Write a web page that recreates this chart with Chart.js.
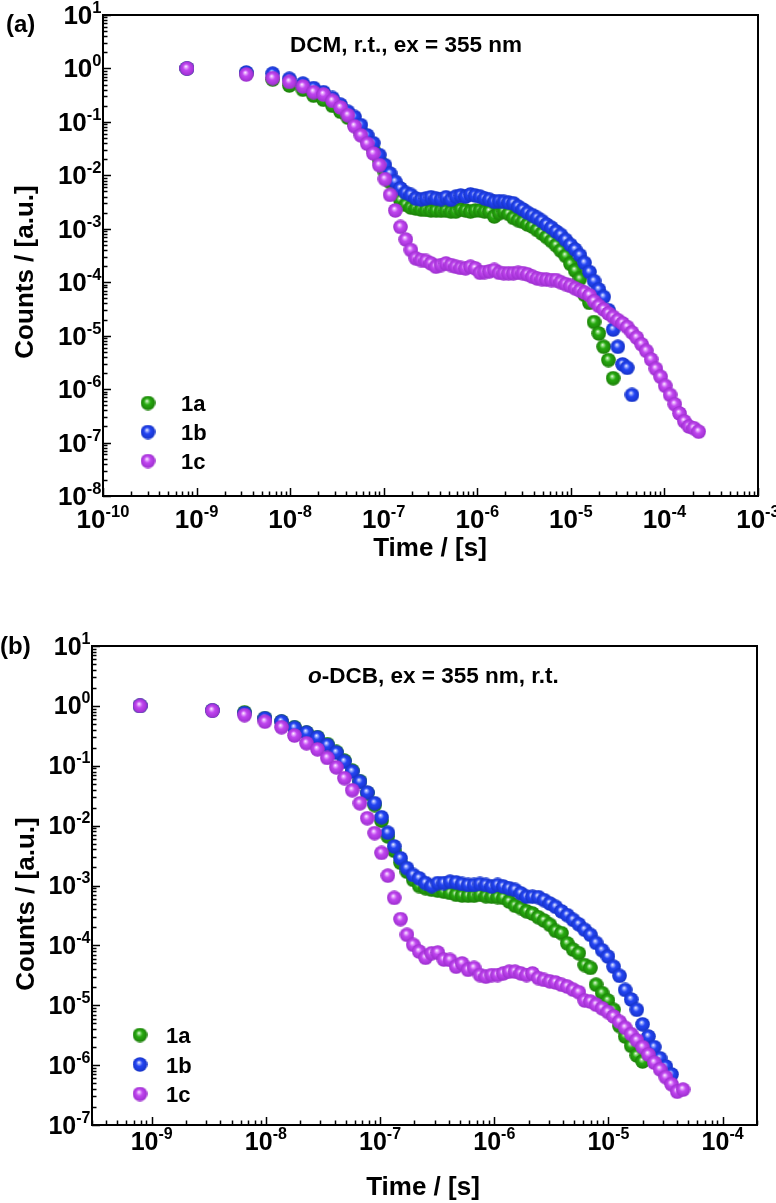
<!DOCTYPE html>
<html>
<head>
<meta charset="utf-8">
<script src="https://cdn.jsdelivr.net/npm/chart.js@4.4.0/dist/chart.umd.min.js"></script>
<style>
  html, body { margin: 0; padding: 0; background: #fff; }
  #wrap { position: relative; width: 776px; height: 1203px; }
  canvas { position: absolute; left: 0; }
</style>
</head>
<body>
<div id="wrap">
  <canvas id="chartA" width="776" height="590" style="top:0px"></canvas>
  <canvas id="chartB" width="776" height="613" style="top:590px"></canvas>
</div>
<script>
// shared time bins (s)
const times = [
  7.9e-10, 3.4e-9, 6.5e-9, 9.8e-9, 1.37e-8, 1.78e-8, 2.27e-8, 2.83e-8, 3.45e-8, 4.14e-8,
  4.87e-8, 5.7e-8, 6.66e-8, 7.73e-8, 8.96e-8, 1.03e-7, 1.17e-7, 1.33e-7, 1.51e-7, 1.72e-7,
  1.95e-7, 2.2e-7, 2.5e-7, 2.83e-7, 3.2e-7, 3.62e-7, 4.1e-7, 4.63e-7, 5.23e-7, 5.9e-7,
  6.65e-7, 7.5e-7, 8.45e-7, 9.5e-7, 1.07e-6, 1.2e-6, 1.35e-6, 1.52e-6, 1.71e-6, 1.92e-6,
  2.16e-6, 2.43e-6, 2.73e-6, 3.07e-6, 3.45e-6, 3.88e-6, 4.36e-6, 4.9e-6, 5.5e-6, 6.2e-6,
  6.95e-6, 7.8e-6, 8.8e-6, 9.9e-6, 1.11e-5, 1.25e-5, 1.4e-5, 1.58e-5, 1.77e-5, 1.99e-5,
  2.24e-5, 2.52e-5, 2.83e-5, 3.18e-5, 3.57e-5, 4.0e-5, 4.5e-5, 5.06e-5, 5.7e-5, 6.4e-5,
  7.2e-5, 8.1e-5, 9.1e-5, 1.02e-4, 1.15e-4, 1.29e-4, 1.45e-4, 1.63e-4, 1.83e-4, 2.06e-4,
  2.32e-4
];

const seriesNames = ["1a", "1b", "1c"];

// (a) DCM
const dcm1a = [
  1.0, 0.80, 0.62, 0.48, 0.40, 0.31, 0.26, 0.20, 0.155, 0.12,
  0.09, 0.065, 0.045, 0.03, 0.019, 0.0115, 0.0075, 0.0048, 0.0034, 0.0028,
  0.0025, 0.0024, 0.0023, 0.00225, 0.0022, 0.0022, 0.00218, 0.0022, 0.0021, 0.0021,
  0.0023, 0.0022, 0.0021, 0.0022, 0.0022, 0.0021, 0.0021, 0.0017, 0.00195, 0.0021,
  0.0019, 0.0016, 0.00145, 0.00135, 0.0012, 0.0011, 0.00095, 0.00082, 0.0007, 0.00059,
  0.00049, 0.00039, 0.00031, 0.00022, 0.000165, 0.000115, 5.8e-5, 4.1e-5, 1.8e-5, 1.1e-5,
  6.2e-6, 3.5e-6, 1.6e-6
];
const dcm1b = [
  1.0, 0.84, 0.80, 0.64, 0.52, 0.43, 0.36, 0.28, 0.21, 0.155,
  0.124, 0.087, 0.056, 0.040, 0.024, 0.0155, 0.0108, 0.0076, 0.0057, 0.0047,
  0.0043, 0.0037, 0.00355, 0.0037, 0.0039, 0.0037, 0.0036, 0.0039, 0.0035, 0.0040,
  0.0042, 0.0040, 0.0044, 0.0042, 0.0040, 0.0037, 0.0035, 0.0032, 0.0033, 0.0032,
  0.0031, 0.0030, 0.0026, 0.0023, 0.0020, 0.0018, 0.0016, 0.0014, 0.0012, 0.00105,
  0.00089, 0.00077, 0.00062, 0.0005, 0.00041, 0.00032, 0.00023, 0.000155, 0.000105, 7.3e-5,
  5.3e-5, 3.0e-5, 1.3e-5, 6.2e-6, 2.9e-6, 2.5e-6, 7.8e-7
];
const dcm1c = [
  1.0, 0.77, 0.66, 0.56, 0.46, 0.36, 0.325, 0.247, 0.186, 0.133,
  0.083, 0.056, 0.039, 0.0257, 0.0155, 0.0085, 0.0043, 0.0022, 0.00108, 0.00063,
  0.0004, 0.00028, 0.00026, 0.00025, 0.000225, 0.000195, 0.00021, 0.000225, 0.00021, 0.000195,
  0.000185, 0.000182, 0.000195, 0.000182, 0.00015, 0.000155, 0.00016, 0.00017, 0.00015, 0.000147,
  0.000147, 0.000147, 0.00015, 0.000148, 0.00014, 0.000127, 0.000118, 0.000114, 0.000112, 0.00011,
  0.00011, 0.0001, 9.2e-5, 8.5e-5, 7.7e-5, 7.0e-5, 6.4e-5, 5.7e-5, 4.4e-5, 3.6e-5,
  3.1e-5, 2.6e-5, 2.25e-5, 1.95e-5, 1.7e-5, 1.45e-5, 1.15e-5, 9.2e-6, 6.9e-6, 5.2e-6,
  3.6e-6, 2.4e-6, 1.7e-6, 1.15e-6, 7.8e-7, 5.2e-7, 3.5e-7, 2.5e-7, 2.0e-7, 1.86e-7,
  1.6e-7
];

// (b) o-DCB
const odcb1a = [
  1.0, 0.84, 0.78, 0.62, 0.55, 0.44, 0.36, 0.30, 0.23, 0.17,
  0.122, 0.083, 0.055, 0.035, 0.022, 0.012, 0.0066, 0.0038, 0.0024, 0.0017,
  0.00124, 0.00098, 0.0009, 0.00085, 0.00082, 0.00079, 0.00075, 0.0007, 0.00068, 0.000675,
  0.000675, 0.0007, 0.00066, 0.00065, 0.00064, 0.00062, 0.00054, 0.00046, 0.00042, 0.00037,
  0.00034, 0.000295, 0.00026, 0.00022, 0.000175, 0.00016, 0.000108, 8.5e-5, 7.4e-5, 4.7e-5,
  4.2e-5, 2.2e-5, 1.6e-5, 1.2e-5, 8.4e-6, 4.5e-6, 3.0e-6, 2.1e-6, 1.45e-6, 1.15e-6
];
const odcb1b = [
  1.0, 0.84, 0.76, 0.62, 0.545, 0.43, 0.357, 0.295, 0.222, 0.166,
  0.117, 0.080, 0.054, 0.0356, 0.0237, 0.0138, 0.0076, 0.0045, 0.00285, 0.00195,
  0.0015, 0.00132, 0.0011, 0.00098, 0.0011, 0.0011, 0.00116, 0.00113, 0.00106, 0.00102,
  0.00102, 0.00106, 0.00102, 0.00096, 0.00102, 0.00096, 0.0009, 0.000845, 0.00074, 0.00065,
  0.00065, 0.00064, 0.00057, 0.0005, 0.00044, 0.00037, 0.00032, 0.000267, 0.000225, 0.000182,
  0.00015, 0.00011, 8.3e-5, 6.5e-5, 4.4e-5, 3.1e-5, 1.8e-5, 1.25e-5, 8.4e-6, 4.8e-6,
  3.0e-6, 2.0e-6, 1.3e-6, 9.5e-7, 7.0e-7
];
const odcb1c = [
  1.0, 0.83, 0.70, 0.545, 0.44, 0.32, 0.238, 0.188, 0.135, 0.094,
  0.062, 0.039, 0.0236, 0.0133, 0.0075, 0.0035, 0.00146, 0.00062, 0.000275, 0.00015,
  0.000102, 7.9e-5, 6.2e-5, 7.4e-5, 7.6e-5, 5.8e-5, 5.7e-5, 4.4e-5, 5.0e-5, 3.9e-5,
  4.2e-5, 3.2e-5, 3.0e-5, 3.2e-5, 3.2e-5, 3.4e-5, 3.65e-5, 3.65e-5, 3.4e-5, 3.2e-5,
  3.4e-5, 2.85e-5, 2.65e-5, 2.5e-5, 2.4e-5, 2.2e-5, 2.05e-5, 1.82e-5, 1.65e-5, 1.2e-5,
  1.15e-5, 1.02e-5, 8.9e-6, 7.7e-6, 6.5e-6, 5.3e-6, 4.2e-6, 3.3e-6, 2.6e-6, 2.0e-6,
  1.5e-6, 1.1e-6, 8.5e-7, 6.3e-7, 4.8e-7, 3.6e-7, 3.9e-7
];

const FONT = '"Liberation Sans", Arial, sans-serif';

// shiny ball marker
function sphere(base, light, dark) {
  const c = document.createElement("canvas");
  c.width = 15; c.height = 15;
  const g = c.getContext("2d");
  const grad = g.createRadialGradient(6.3, 5.3, 0, 7.5, 7.5, 7.6);
  grad.addColorStop(0, "#ffffff");
  grad.addColorStop(0.14, light);
  grad.addColorStop(0.42, base);
  grad.addColorStop(1, dark);
  g.fillStyle = grad;
  g.beginPath();
  g.arc(7.5, 7.5, 7.3, 0, Math.PI * 2);
  g.fill();
  return c;
}
const balls = [
  sphere("#27aa10", "#a4e495", "#1b7d08"),
  sphere("#2445f4", "#aab8ff", "#1532c4"),
  sphere("#c146f0", "#ecb6ff", "#9a2dcc")
];

function powLabel(ctx, x, y, exp, align, big, small, rise) {
  ctx.font = "bold " + big + "px " + FONT;
  const w1 = ctx.measureText("10").width;
  ctx.font = "bold " + small + "px " + FONT;
  const e = String(exp);
  const w2 = ctx.measureText(e).width;
  const x0 = align === "right" ? x - w1 - w2 : x - (w1 + w2) / 2;
  ctx.font = "bold " + big + "px " + FONT;
  ctx.fillText("10", x0, y);
  ctx.font = "bold " + small + "px " + FONT;
  ctx.fillText(e, x0 + w1, y - rise);
}

function logValues(min, max) {
  const out = [];
  for (let n = Math.floor(Math.log10(min)); n <= Math.ceil(Math.log10(max)); n++) {
    for (let k = 1; k <= 9; k++) {
      const v = Number(k + "e" + n);
      if (v >= min * 0.9999 && v <= max * 1.0001) out.push({ v: v, major: k === 1, n: n });
    }
  }
  return out;
}

// frame, inward ticks, power-of-ten labels, titles and legend
function framePlugin(d) {
  return {
    id: "frame",
    afterDraw(chart) {
      const ctx = chart.ctx, a = chart.chartArea;
      const xs = chart.scales.x, ys = chart.scales.y;
      ctx.save();
      ctx.strokeStyle = "#000";
      ctx.fillStyle = "#000";
      ctx.lineWidth = 1.5;
      ctx.beginPath();
      logValues(xs.min, xs.max).forEach(t => {
        const px = Math.round(xs.getPixelForValue(t.v)) + 0.5;
        const len = t.major ? 8 : 4.5;
        ctx.moveTo(px, a.bottom);
        ctx.lineTo(px, a.bottom - len);
      });
      logValues(ys.min, ys.max).forEach(t => {
        const py = Math.round(ys.getPixelForValue(t.v)) + 0.5;
        const len = t.major ? 8 : 4.5;
        ctx.moveTo(a.left, py);
        ctx.lineTo(a.left + len, py);
      });
      ctx.stroke();
      ctx.lineWidth = 2;
      ctx.strokeRect(a.left, a.top, a.right - a.left, a.bottom - a.top);

      ctx.textAlign = "left";
      ctx.textBaseline = "alphabetic";
      logValues(xs.min, xs.max).filter(t => t.major).forEach(t => {
        powLabel(ctx, xs.getPixelForValue(t.v), a.bottom + d.xLabelDy, t.n, "center", d.big, d.small, d.rise);
      });
      logValues(ys.min, ys.max).filter(t => t.major).forEach(t => {
        powLabel(ctx, a.left - 1.5, ys.getPixelForValue(t.v) + d.yLabelDy, t.n, "right", d.big, d.small, d.rise);
      });

      // axis titles
      ctx.font = "bold 26px " + FONT;
      ctx.textAlign = "center";
      ctx.fillText("Time / [s]", d.xTitle[0], d.xTitle[1]);
      ctx.save();
      ctx.translate(d.yTitle[0], d.yTitle[1]);
      ctx.rotate(-Math.PI / 2);
      ctx.fillText("Counts / [a.u.]", 0, 0);
      ctx.restore();

      // panel tag and condition note
      ctx.textAlign = "left";
      ctx.font = "bold 24px " + FONT;
      ctx.fillText(d.tag, d.tagPos[0], d.tagPos[1]);
      let x = d.notePos[0];
      d.note.forEach(part => {
        ctx.font = (part.italic ? "italic " : "") + "bold " + d.noteSize + "px " + FONT;
        ctx.fillText(part.text, x, d.notePos[1]);
        x += ctx.measureText(part.text).width;
      });

      // legend
      ctx.font = "bold 22px " + FONT;
      seriesNames.forEach((name, i) => {
        const cy = d.legend.y + i * d.legend.gap;
        ctx.drawImage(balls[i], d.legend.x - 7.5, cy - 7.5);
        ctx.fillText(name, d.legend.tx, cy + 8);
      });
      ctx.restore();
    }
  };
}

function makeChart(id, series, xr, yr, pad, deco) {
  return new Chart(document.getElementById(id), {
    type: "scatter",
    data: {
      datasets: series.map((s, i) => ({
        label: seriesNames[i],
        data: times.map((t, j) => ({ x: t, y: s[j] })).filter(p => p.y != null),
        pointStyle: balls[i],
        pointRadius: 7,
        order: 3 - i
      }))
    },
    options: {
      responsive: false,
      animation: false,
      events: [],
      layout: { padding: pad },
      plugins: { legend: { display: false }, tooltip: { enabled: false } },
      scales: {
        x: { type: "logarithmic", min: xr[0], max: xr[1], display: false },
        y: { type: "logarithmic", min: yr[0], max: yr[1], display: false }
      }
    },
    plugins: [framePlugin(deco)]
  });
}

makeChart("chartA", [dcm1a, dcm1b, dcm1c], [1e-10, 1e-3], [1e-8, 10],
  { left: 103, top: 15, right: 18, bottom: 94 },
  {
    big: 26, small: 16.5, rise: 11, xLabelDy: 32, yLabelDy: 9,
    xTitle: [430, 556], yTitle: [33, 272],
    tag: "(a)", tagPos: [6, 32],
    note: [{ text: "DCM, r.t., ex = 355 nm" }], notePos: [290, 51.5], noteSize: 22.5,
    legend: { x: 148, y: 403, gap: 29, tx: 181 }
  });

makeChart("chartB", [odcb1a, odcb1b, odcb1c], [3e-10, 2e-4], [1e-7, 10],
  { left: 92, top: 56, right: 19, bottom: 78 },
  {
    big: 25, small: 16, rise: 11, xLabelDy: 25, yLabelDy: 8.5,
    xTitle: [423, 605], yTitle: [34, 314],
    tag: "(b)", tagPos: [0, 64],
    note: [{ text: "o", italic: true }, { text: "-DCB, ex = 355 nm, r.t." }], notePos: [308, 93], noteSize: 22.5,
    legend: { x: 140, y: 445, gap: 29.5, tx: 166 }
  });
</script>
</body>
</html>
